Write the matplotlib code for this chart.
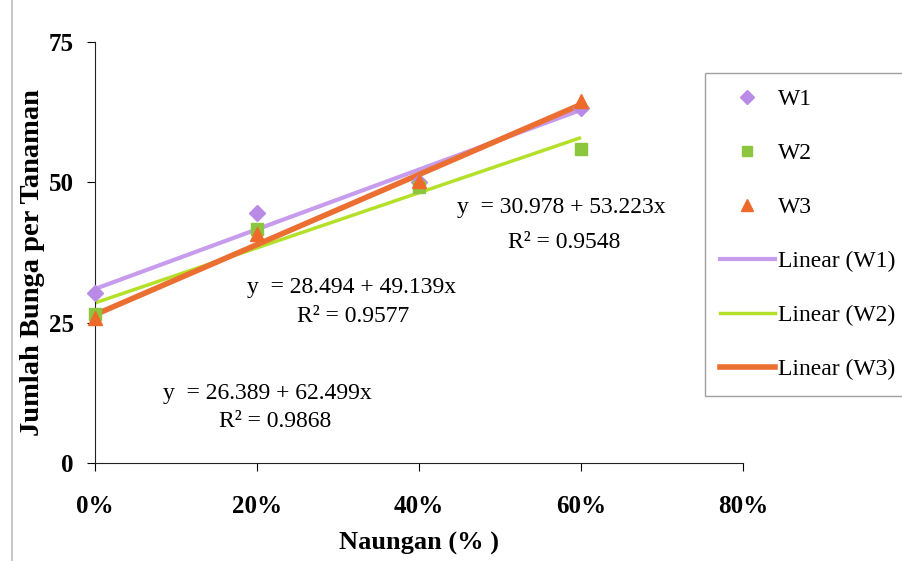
import numpy as np
import matplotlib.pyplot as plt
from matplotlib.ticker import FuncFormatter
from matplotlib.lines import Line2D

# --- Data
naungan = [0.0, 0.2, 0.4, 0.6]
w1 = [30.3, 44.6, 50.0, 63.2]
w2 = [26.5, 41.6, 49.1, 56.0]
w3 = [25.8, 40.7, 50.3, 64.5]

series_names = ['W1', 'W2', 'W3']
intercepts = [30.978, 28.494, 26.389]
slopes = [53.223, 49.139, 62.499]
r2_values = [0.9548, 0.9577, 0.9868]

x_ticks = [0.0, 0.2, 0.4, 0.6, 0.8]
y_ticks = [0, 25, 50, 75]

marker_colors = ['#b98be6', '#8cc63f', '#ee6a2a']
line_colors = ['#c79cec', '#b4e02a', '#ec6f32']
markers = ['D', 's', '^']
marker_sizes = [8, 8, 10]
line_widths = [3.0, 2.5, 4.0]

plt.rcParams['font.family'] = ['Liberation Serif', 'DejaVu Serif']

fig = plt.figure(figsize=(9.03, 5.61), dpi=100)
ax = fig.add_axes([0.105, 0.175, 0.718, 0.75])

series = [w1, w2, w3]
for idx in range(3):
    ax.plot(naungan, series[idx], linestyle='None', marker=markers[idx],
            markersize=marker_sizes[idx], color=marker_colors[idx], zorder=3,
            clip_on=False)

# --- Trendlines
xfit = np.array([naungan[0], naungan[-1]])
for idx in range(3):
    ax.plot(xfit, intercepts[idx] + slopes[idx] * xfit, color=line_colors[idx],
            linewidth=line_widths[idx], solid_capstyle='butt', zorder=2)

ax.set_xlim(0, 0.8)
ax.set_ylim(0, 75)
ax.set_xticks(x_ticks)
ax.set_yticks(y_ticks)
ax.xaxis.set_major_formatter(FuncFormatter(lambda v, p: f'{v*100:.0f}%'))
ax.tick_params(axis='both', labelsize=18, length=6, width=0.8, direction='out')
ax.tick_params(axis='x', pad=17)
ax.tick_params(axis='y', pad=9)
for lab in ax.get_xticklabels() + ax.get_yticklabels():
    lab.set_fontweight('bold')
for side in ['top', 'right']:
    ax.spines[side].set_visible(False)
ax.spines['left'].set_color('#222222')
ax.spines['bottom'].set_color('#222222')

ax.set_xlabel('Naungan (% )', fontsize=19, fontweight='bold', labelpad=10)
fig.text(33 / 903, 1 - 263 / 561, 'Jumlah Bunga per Tanaman', rotation=90,
         fontsize=20.5, fontweight='bold', ha='center', va='center')

# --- Equations
eq_pos = [(0.447, 45.5), (0.188, 31.2), (0.084, 12.3)]
r2_pos = [(0.51, 39.2), (0.249, 26.0), (0.153, 7.4)]
for idx in range(3):
    ax.text(eq_pos[idx][0], eq_pos[idx][1],
            f'y  = {intercepts[idx]:.3f} + {slopes[idx]:.3f}x', fontsize=17, va='center')
    ax.text(r2_pos[idx][0], r2_pos[idx][1], f'R² = {r2_values[idx]:.4f}',
            fontsize=17, va='center')

# --- Legend
handles = []
for idx in range(3):
    handles.append(Line2D([], [], linestyle='None', marker=markers[idx],
                          markersize=marker_sizes[idx] - 1, color=marker_colors[idx]))
for idx in range(3):
    handles.append(Line2D([], [], color=line_colors[idx], linewidth=line_widths[idx]))
labels = series_names + [f'Linear ({n})' for n in series_names]
leg = fig.legend(handles, labels, loc='upper left', bbox_to_anchor=(705 / 903, 1 - 73 / 561),
                 fontsize=17, frameon=True, fancybox=False, edgecolor='#888888',
                 labelspacing=1.38, handlelength=2.3, handletextpad=0.15,
                 borderpad=0.65, borderaxespad=0)
leg.get_frame().set_linewidth(1.0)

# faint scan border at the left
fig.add_artist(Line2D([0.013, 0.013], [0.0, 1.0], color='#bbbbbb', linewidth=1.2))

fig.savefig('out.png', dpi=100)
